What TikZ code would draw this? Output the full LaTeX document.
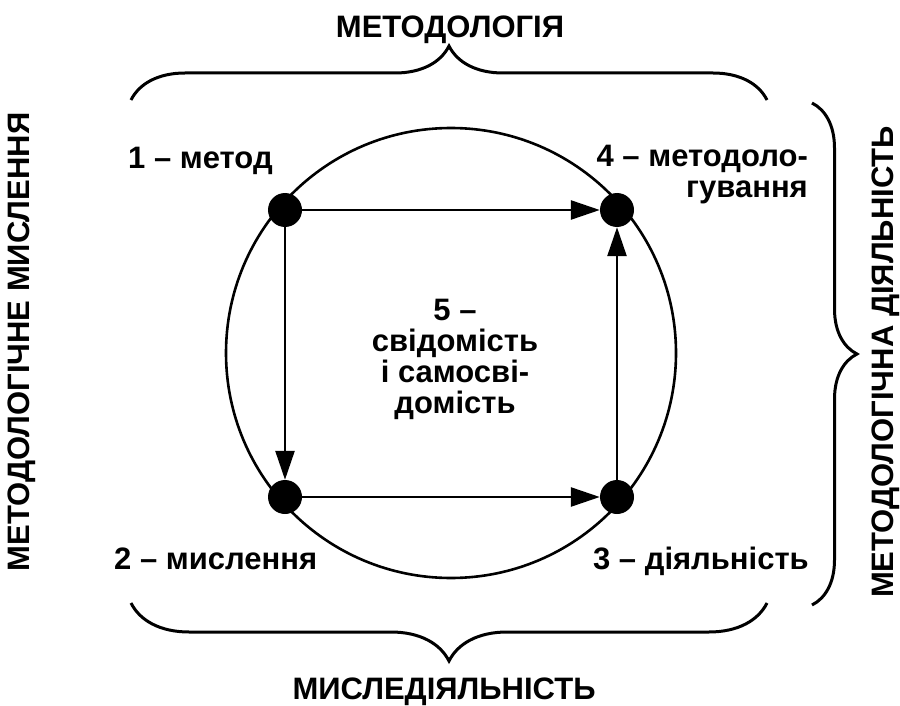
\documentclass[tikz,border=0pt]{standalone}
\usepackage{fontspec}
\setmainfont{Liberation Sans}
\usetikzlibrary{arrows.meta,decorations.pathreplacing}
\tikzset{
  dot/.style={circle, fill=black, inner sep=0pt, minimum size=34pt},
  lbl/.style={font=\fontsize{31}{31}\selectfont\bfseries, inner sep=0pt},
  arrow/.style={-{Triangle[length=29pt,width=19pt]}, line width=2.6pt},
  bracket/.style={decorate, decoration={brace, amplitude=#1}, line width=3pt},
}
\begin{document}
\begin{tikzpicture}[x=1pt, y=-1pt]
    \useasboundingbox (0,0) rectangle (900,706);

    % Ring and the four corner points
    \node[draw, circle, line width=2.6pt, minimum size=450pt, inner sep=0pt] (ring) at (451,353) {};
    \node[dot] (method) at (285,210) {};
    \node[dot] (methodize) at (617,210) {};
    \node[dot] (thinking) at (285,497) {};
    \node[dot] (activity) at (617,497) {};

    % Corner labels and centre
    \node[lbl, anchor=base west] (method_lbl) at (128,169) {1 – метод};
    \node[lbl, anchor=base east, align=right] (methodize_lbl) at (808,197) {4 – методоло-\\гування};
    \node[lbl, anchor=base west] (thinking_lbl) at (114,569) {2 – мислення};
    \node[lbl, anchor=base east] (activity_lbl) at (809,569) {3 – діяльність};
    \node[lbl, align=center] (mind_lbl) at (455,359) {5 –\\свідомість\\і самосві-\\домість};

    % Side titles
    \node[lbl, anchor=base] (top_title) at (450,38) {МЕТОДОЛОГІЯ};
    \node[lbl, anchor=base] (bottom_title) at (444,699) {МИСЛЕДІЯЛЬНІСТЬ};
    \node[lbl, rotate=90] (left_title) at (22,342) {МЕТОДОЛОГІЧНЕ МИСЛЕННЯ};
    \node[lbl, rotate=90] (right_title) at (886,362) {МЕТОДОЛОГІЧНА ДІЯЛЬНІСТЬ};

    % Brace ends
    \coordinate (top_l) at (131,100);
    \coordinate (top_r) at (767,100);
    \coordinate (bot_l) at (131,603);
    \coordinate (bot_r) at (767,603);
    \coordinate (side_t) at (812,103);
    \coordinate (side_b) at (812,605);

    % Cycle
    \draw[arrow] (method) -- (methodize);
    \draw[arrow] (method) -- (thinking);
    \draw[arrow] (thinking) -- (activity);
    \draw[arrow] (activity) -- (methodize);

    % Braces
    \draw[bracket=54pt] (top_l) -- (top_r);
    \draw[bracket=58pt] (bot_r) -- (bot_l);
    \draw[bracket=45pt] (side_t) -- (side_b);
\end{tikzpicture}
\end{document}
